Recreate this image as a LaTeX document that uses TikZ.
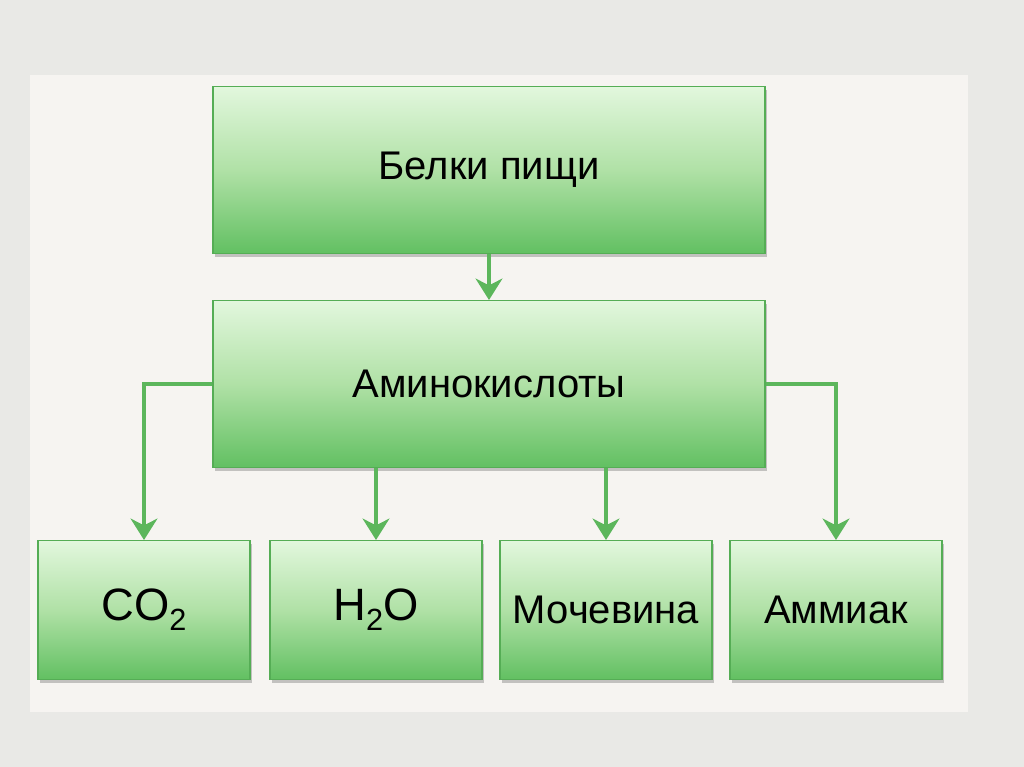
\documentclass[tikz,border=0pt]{standalone}
\usepackage{fontspec}
\setmainfont{Liberation Sans}
\usetikzlibrary{positioning, arrows.meta, shadows}
\definecolor{boxtop}{HTML}{E2F7DD}
\definecolor{boxmid}{HTML}{B0E1A6}
\definecolor{boxbot}{HTML}{62C062}
\definecolor{boxline}{HTML}{55AD55}
\definecolor{arrowgreen}{HTML}{5CB65C}
\definecolor{paper}{HTML}{E9E9E6}
\definecolor{panel}{HTML}{F6F4F1}
\newcommand{\formsub}[1]{\raisebox{-0.22em}{\fontsize{23}{23}\selectfont #1}}

\begin{document}
\begin{tikzpicture}[
		x=0.75pt, y=-0.75pt,
		stagebox/.style={draw=boxline, line width=1pt, top color=boxtop, bottom color=boxbot, middle color=boxmid,
			drop shadow={shadow xshift=1.5pt, shadow yshift=-2.5pt, opacity=0.3, fill=black!70},
			font=\fontsize{30}{36}\selectfont, inner sep=0pt},
		bigbox/.style={stagebox, minimum width=414pt, minimum height=125pt},
		smallbox/.style={stagebox, minimum width=159pt, minimum height=104pt},
		formula/.style={font=\fontsize{34}{40}\selectfont},
		flow/.style={draw=arrowgreen, line width=2.8pt, -{Stealth[length=16pt, width=20pt, inset=5pt]}}
		]
		
		% ==========================================
		% Background and panel
		% ==========================================
		\useasboundingbox (0,0) rectangle (1024,767);
		\fill[paper] (0,0) rectangle (1024,767);
		\fill[panel] (30,75) rectangle (968,712);
		
		% ==========================================
		% Boxes
		% ==========================================
		\node[bigbox] (belki) at (489, 170) {Белки пищи};
		\node[bigbox] (amino) at (489, 384) {Аминокислоты};
		
		\node[smallbox, formula] (co2) at (144, 610) {CO\formsub{2}};
		\node[smallbox, formula] (water) at (376, 610) {H\formsub{2}O};
		\node[smallbox] (urea) at (606, 610) {Мочевина};
		\node[smallbox] (ammonia) at (836, 610) {Аммиак};
		
		% ==========================================
		% Arrows
		% ==========================================
		\draw[flow] (belki) -- (amino);
		\draw[flow] (amino.west) -| (co2.north);
		\draw[flow] (water.north |- amino.south) -- (water.north);
		\draw[flow] (urea.north |- amino.south) -- (urea.north);
		\draw[flow] (amino.east) -| (ammonia.north);
		
	\end{tikzpicture}
\end{document}
